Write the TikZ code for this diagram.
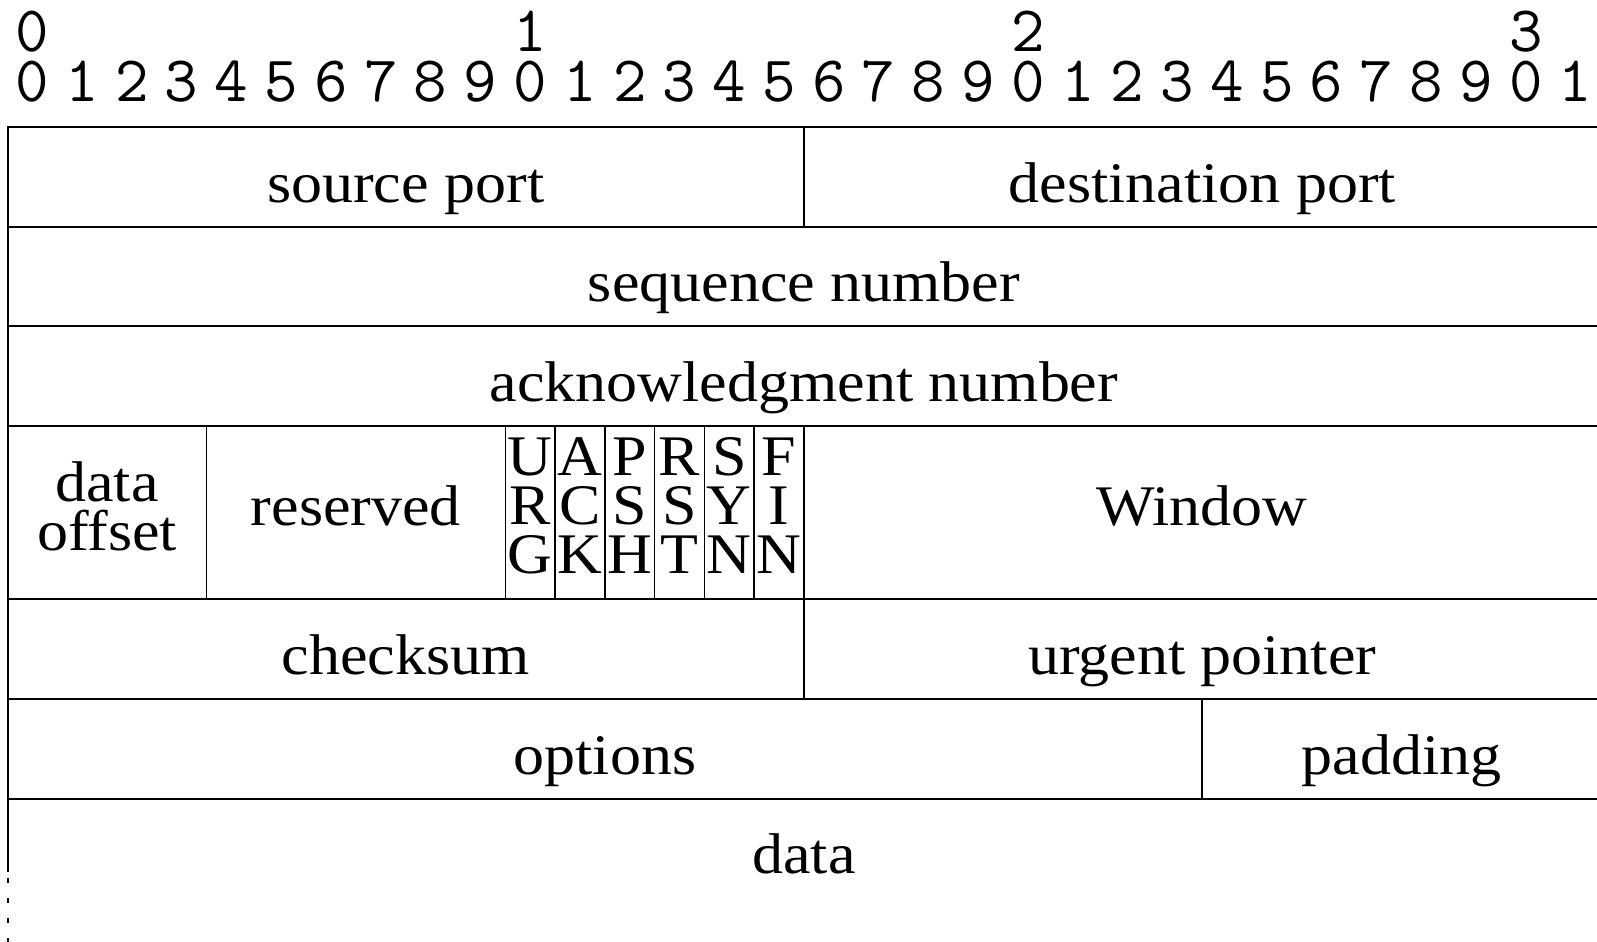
\documentclass[tikz,border=0pt]{standalone}
\usepackage{fontspec}
\setmainfont[FakeStretch=1.08]{Liberation Serif}
\begin{document}
\begin{tikzpicture}[x=0.5pt,y=-0.5pt,
  hline/.style={line width=1pt},
  vline/.style={line width=0.75pt},
  fld/.style={anchor=base, inner sep=0pt, font=\fontsize{28.7}{25}\selectfont},
  bitnum/.style={anchor=base, inner sep=0pt, font=\fontsize{32.5}{32}\selectfont\ttfamily}]
\useasboundingbox (0,0) rectangle (1597,942);
\pgfmathsetmacro{\bw}{49.78}
% bit numbers
\foreach \i in {0,...,31}{
  \pgfmathtruncatemacro{\d}{mod(\i,10)}
  \node[bitnum] (b\i) at ({7.5+(\i+0.5)*\bw},101.7) {\d};
}
\foreach \i/\t in {0/0,10/1,20/2,30/3}{
  \node[bitnum] (t\i) at ({7.5+(\i+0.5)*\bw},51.7) {\t};
}
% horizontal rules
\foreach \y in {127.2,226.8,326.4,426,599.4,699,798.6}{
  \draw[hline] (7.5,\y) -- (1600,\y);
}
% left border
\draw[hline] (7.5,126.2) -- (7.5,871.7);
\draw[hline, dash pattern=on 2.5pt off 7.5pt] (7.5,878) -- (7.5,945);
% vertical separators
\draw[vline] ({7.5+16*\bw},127.2) -- ({7.5+16*\bw},226.8);
\foreach \b in {4,10,11,12,13,14,15,16}{
  \draw[vline] ({7.5+\b*\bw},426) -- ({7.5+\b*\bw},599.4);
}
\draw[vline] ({7.5+16*\bw},599.4) -- ({7.5+16*\bw},699);
\draw[vline] ({7.5+24*\bw},699) -- ({7.5+24*\bw},798.6);
% field labels
\node[fld] (sport) at ({7.5+8*\bw},202.3) {source port};
\node[fld] (dport) at ({7.5+24*\bw},202.3) {destination port};
\node[fld] (seq) at ({7.5+16*\bw},301.9) {sequence number};
\node[fld] (ack) at ({7.5+16*\bw},401.5) {acknowledgment number};
\node[fld] (doff1) at ({7.5+2*\bw},501.7) {data};
\node[fld] (doff2) at ({7.5+2*\bw},550) {offset};
\node[fld] (res) at ({7.5+7*\bw},525.5) {reserved};
\foreach \b/\a/\c/\e in {10/U/R/G,11/A/C/K,12/P/S/H,13/R/S/T,14/S/Y/N,15/F/I/N}{
  \node[fld] (f\b a) at ({7.5+(\b+0.5)*\bw},475) {\a};
  \node[fld] (f\b b) at ({7.5+(\b+0.5)*\bw},524) {\c};
  \node[fld] (f\b c) at ({7.5+(\b+0.5)*\bw},573.7) {\e};
}
\node[fld] (win) at ({7.5+24*\bw},525.5) {Window};
\node[fld] (csum) at ({7.5+8*\bw},674.3) {checksum};
\node[fld] (urg) at ({7.5+24*\bw},674.3) {urgent pointer};
\node[fld] (opt) at ({7.5+12*\bw},774.1) {options};
\node[fld] (pad) at ({7.5+28*\bw},774.1) {padding};
\node[fld] (dat) at ({7.5+16*\bw},873.9) {data};
\end{tikzpicture}
\end{document}
